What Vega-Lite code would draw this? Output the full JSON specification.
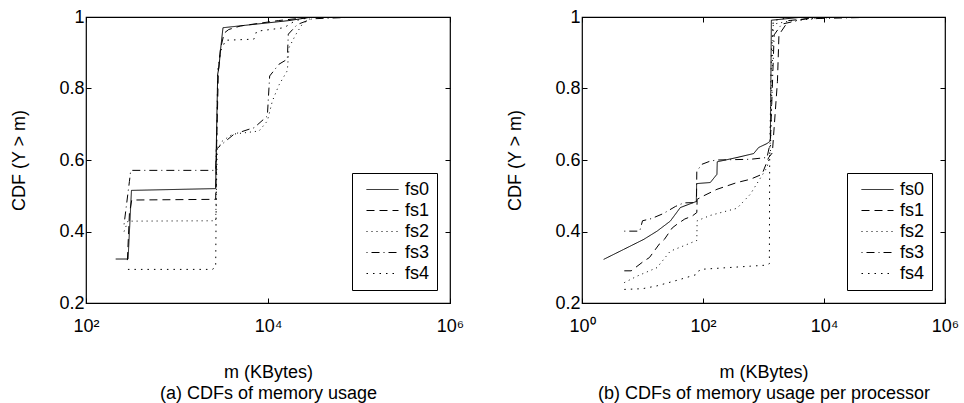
{
  "$schema": "https://vega.github.io/schema/vega-lite/v6.json",
  "background": "white",
  "padding": {"left": 9, "top": 7, "right": 5, "bottom": 5},
  "config": {
    "font": "Liberation Sans",
    "view": {"stroke": "black", "strokeWidth": 1.2},
    "axis": {"labelFont": "Liberation Sans", "labelFontSize": 18, "labelColor": "black", "titleFont": "Liberation Sans", "titleFontSize": 18, "titleFontWeight": "normal", "titleColor": "black", "domain": false, "grid": false, "tickColor": "black", "tickSize": -5, "labelFlush": false, "labelOverlap": false},
    "axisX": {"labelPadding": 19, "titlePadding": 28, "titleLineHeight": 21},
    "axisY": {"labelPadding": 7, "titlePadding": 30.5},
    "legend": {"orient": "bottom-right", "offset": 13, "strokeColor": "black", "fillColor": "white", "padding": 7.5, "labelFont": "Liberation Sans", "labelFontSize": 18, "labelColor": "black", "symbolType": "M-2,0H2", "symbolStrokeColor": "black", "symbolFillColor": "transparent", "symbolStrokeWidth": 1, "symbolSize": 256, "symbolOffset": 14, "labelOffset": 13.5, "rowPadding": 3, "cornerRadius": 0},
    "line": {"color": "black", "strokeWidth": 1}
  },
  "datasets": {
    "a": [
      {"s": "fs0", "m": 212, "p": 0.323}, {"s": "fs0", "m": 290, "p": 0.323}, {"s": "fs0", "m": 316, "p": 0.515}, {"s": "fs0", "m": 2661, "p": 0.52}, {"s": "fs0", "m": 2700, "p": 0.63}, {"s": "fs0", "m": 2800, "p": 0.84}, {"s": "fs0", "m": 2894, "p": 0.86}, {"s": "fs0", "m": 3000, "p": 0.905}, {"s": "fs0", "m": 3201, "p": 0.97}, {"s": "fs0", "m": 17000, "p": 0.99}, {"s": "fs0", "m": 30700, "p": 1.0}, {"s": "fs0", "m": 100000, "p": 1.0},
      {"s": "fs1", "m": 285, "p": 0.32}, {"s": "fs1", "m": 300, "p": 0.45}, {"s": "fs1", "m": 318, "p": 0.488}, {"s": "fs1", "m": 2661, "p": 0.49}, {"s": "fs1", "m": 2720, "p": 0.63}, {"s": "fs1", "m": 2850, "p": 0.85}, {"s": "fs1", "m": 3000, "p": 0.91}, {"s": "fs1", "m": 3300, "p": 0.955}, {"s": "fs1", "m": 3700, "p": 0.965}, {"s": "fs1", "m": 5000, "p": 0.975}, {"s": "fs1", "m": 13000, "p": 0.99}, {"s": "fs1", "m": 30700, "p": 1.0}, {"s": "fs1", "m": 100000, "p": 1.0},
      {"s": "fs2", "m": 262, "p": 0.40}, {"s": "fs2", "m": 290, "p": 0.43}, {"s": "fs2", "m": 318, "p": 0.429}, {"s": "fs2", "m": 2661, "p": 0.43}, {"s": "fs2", "m": 2775, "p": 0.63}, {"s": "fs2", "m": 3150, "p": 0.653}, {"s": "fs2", "m": 4053, "p": 0.672}, {"s": "fs2", "m": 7960, "p": 0.681}, {"s": "fs2", "m": 9835, "p": 0.709}, {"s": "fs2", "m": 11170, "p": 0.765}, {"s": "fs2", "m": 13210, "p": 0.81}, {"s": "fs2", "m": 16310, "p": 0.85}, {"s": "fs2", "m": 17000, "p": 0.914}, {"s": "fs2", "m": 20100, "p": 0.95}, {"s": "fs2", "m": 23800, "p": 0.98}, {"s": "fs2", "m": 30700, "p": 1.0}, {"s": "fs2", "m": 100000, "p": 1.0},
      {"s": "fs3", "m": 262, "p": 0.42}, {"s": "fs3", "m": 300, "p": 0.54}, {"s": "fs3", "m": 310, "p": 0.571}, {"s": "fs3", "m": 2661, "p": 0.571}, {"s": "fs3", "m": 2700, "p": 0.63}, {"s": "fs3", "m": 3428, "p": 0.653}, {"s": "fs3", "m": 4227, "p": 0.672}, {"s": "fs3", "m": 6180, "p": 0.686}, {"s": "fs3", "m": 7017, "p": 0.69}, {"s": "fs3", "m": 9835, "p": 0.723}, {"s": "fs3", "m": 10430, "p": 0.835}, {"s": "fs3", "m": 13210, "p": 0.868}, {"s": "fs3", "m": 16310, "p": 0.882}, {"s": "fs3", "m": 16720, "p": 0.952}, {"s": "fs3", "m": 21000, "p": 0.979}, {"s": "fs3", "m": 30700, "p": 0.995}, {"s": "fs3", "m": 100000, "p": 1.0},
      {"s": "fs4", "m": 289, "p": 0.294}, {"s": "fs4", "m": 2443, "p": 0.294}, {"s": "fs4", "m": 2661, "p": 0.30}, {"s": "fs4", "m": 2720, "p": 0.6}, {"s": "fs4", "m": 2800, "p": 0.85}, {"s": "fs4", "m": 3019, "p": 0.905}, {"s": "fs4", "m": 3428, "p": 0.935}, {"s": "fs4", "m": 7000, "p": 0.938}, {"s": "fs4", "m": 7500, "p": 0.96}, {"s": "fs4", "m": 15000, "p": 0.97}, {"s": "fs4", "m": 20000, "p": 0.99}, {"s": "fs4", "m": 30700, "p": 1.0}, {"s": "fs4", "m": 100000, "p": 1.0}
    ],
    "b": [
      {"s": "fs0", "m": 2.28, "p": 0.322}, {"s": "fs0", "m": 4.9, "p": 0.35}, {"s": "fs0", "m": 10.5, "p": 0.378}, {"s": "fs0", "m": 17.4, "p": 0.401}, {"s": "fs0", "m": 28.8, "p": 0.429}, {"s": "fs0", "m": 42.2, "p": 0.467}, {"s": "fs0", "m": 77.6, "p": 0.484}, {"s": "fs0", "m": 78.5, "p": 0.534}, {"s": "fs0", "m": 132, "p": 0.537}, {"s": "fs0", "m": 170, "p": 0.56}, {"s": "fs0", "m": 172, "p": 0.595}, {"s": "fs0", "m": 365, "p": 0.607}, {"s": "fs0", "m": 688, "p": 0.618}, {"s": "fs0", "m": 832, "p": 0.635}, {"s": "fs0", "m": 1142, "p": 0.646}, {"s": "fs0", "m": 1297, "p": 0.653}, {"s": "fs0", "m": 1350, "p": 0.991}, {"s": "fs0", "m": 4610, "p": 1.0}, {"s": "fs0", "m": 100000, "p": 1.0},
      {"s": "fs1", "m": 5.0, "p": 0.29}, {"s": "fs1", "m": 6.5, "p": 0.29}, {"s": "fs1", "m": 10.5, "p": 0.317}, {"s": "fs1", "m": 13, "p": 0.327}, {"s": "fs1", "m": 19, "p": 0.365}, {"s": "fs1", "m": 23, "p": 0.378}, {"s": "fs1", "m": 31, "p": 0.41}, {"s": "fs1", "m": 37, "p": 0.42}, {"s": "fs1", "m": 50, "p": 0.435}, {"s": "fs1", "m": 66, "p": 0.443}, {"s": "fs1", "m": 79, "p": 0.453}, {"s": "fs1", "m": 80, "p": 0.49}, {"s": "fs1", "m": 103, "p": 0.5}, {"s": "fs1", "m": 170, "p": 0.518}, {"s": "fs1", "m": 365, "p": 0.537}, {"s": "fs1", "m": 604, "p": 0.546}, {"s": "fs1", "m": 945, "p": 0.56}, {"s": "fs1", "m": 1218, "p": 0.607}, {"s": "fs1", "m": 1400, "p": 0.62}, {"s": "fs1", "m": 1700, "p": 0.82}, {"s": "fs1", "m": 1800, "p": 0.95}, {"s": "fs1", "m": 2600, "p": 0.99}, {"s": "fs1", "m": 10000, "p": 1.0}, {"s": "fs1", "m": 100000, "p": 1.0},
      {"s": "fs2", "m": 5.0, "p": 0.257}, {"s": "fs2", "m": 8.1, "p": 0.275}, {"s": "fs2", "m": 17.4, "p": 0.299}, {"s": "fs2", "m": 28.8, "p": 0.345}, {"s": "fs2", "m": 48, "p": 0.36}, {"s": "fs2", "m": 79, "p": 0.375}, {"s": "fs2", "m": 80, "p": 0.43}, {"s": "fs2", "m": 132, "p": 0.445}, {"s": "fs2", "m": 365, "p": 0.465}, {"s": "fs2", "m": 604, "p": 0.504}, {"s": "fs2", "m": 1142, "p": 0.579}, {"s": "fs2", "m": 1300, "p": 0.62}, {"s": "fs2", "m": 1450, "p": 0.98}, {"s": "fs2", "m": 3000, "p": 0.99}, {"s": "fs2", "m": 16300, "p": 1.0}, {"s": "fs2", "m": 100000, "p": 1.0},
      {"s": "fs3", "m": 5.0, "p": 0.401}, {"s": "fs3", "m": 9, "p": 0.401}, {"s": "fs3", "m": 10, "p": 0.43}, {"s": "fs3", "m": 14, "p": 0.436}, {"s": "fs3", "m": 22, "p": 0.45}, {"s": "fs3", "m": 35, "p": 0.47}, {"s": "fs3", "m": 48, "p": 0.48}, {"s": "fs3", "m": 78, "p": 0.481}, {"s": "fs3", "m": 79, "p": 0.569}, {"s": "fs3", "m": 96, "p": 0.588}, {"s": "fs3", "m": 132, "p": 0.597}, {"s": "fs3", "m": 170, "p": 0.6}, {"s": "fs3", "m": 604, "p": 0.602}, {"s": "fs3", "m": 1142, "p": 0.607}, {"s": "fs3", "m": 1300, "p": 0.65}, {"s": "fs3", "m": 1500, "p": 0.95}, {"s": "fs3", "m": 2000, "p": 0.98}, {"s": "fs3", "m": 5000, "p": 0.995}, {"s": "fs3", "m": 100000, "p": 1.0},
      {"s": "fs4", "m": 5.0, "p": 0.238}, {"s": "fs4", "m": 10, "p": 0.24}, {"s": "fs4", "m": 17.4, "p": 0.248}, {"s": "fs4", "m": 40, "p": 0.265}, {"s": "fs4", "m": 79, "p": 0.28}, {"s": "fs4", "m": 89, "p": 0.294}, {"s": "fs4", "m": 608, "p": 0.303}, {"s": "fs4", "m": 1142, "p": 0.306}, {"s": "fs4", "m": 1250, "p": 0.31}, {"s": "fs4", "m": 1265, "p": 0.6}, {"s": "fs4", "m": 1350, "p": 0.9}, {"s": "fs4", "m": 1450, "p": 0.99}, {"s": "fs4", "m": 3000, "p": 1.0}, {"s": "fs4", "m": 100000, "p": 1.0}
    ]
  },
  "spacing": 40,
  "resolve": {"scale": {"strokeDash": "independent", "strokeWidth": "independent"}, "legend": {"strokeDash": "independent", "strokeWidth": "independent"}},
  "hconcat": [
    {
      "width": 364, "height": 286,
      "data": {"name": "a"},
      "layer": [
        {
          "mark": {"type": "line", "color": "black", "clip": true},
          "encoding": {
            "x": {"field": "m", "type": "quantitative", "scale": {"type": "log", "domain": [100, 1000000]}, "axis": {"values": [100, 10000, 1000000], "labelExpr": "datum.value == 1 ? '10⁰' : datum.value == 100 ? '10²' : datum.value == 10000 ? '10⁴' : '10⁶'", "title": ["m (KBytes)", "(a) CDFs of memory usage"]}},
            "y": {"field": "p", "type": "quantitative", "scale": {"domain": [0.2, 1]}, "axis": {"values": [0.2, 0.4, 0.6, 0.8, 1], "labelExpr": "datum.value == 1 ? '1' : format(datum.value, '.1f')", "title": "CDF (Y > m)"}},
            "strokeDash": {"field": "s", "type": "nominal", "scale": {"domain": ["fs0", "fs1", "fs2", "fs3", "fs4"], "range": [[1, 0], [8, 5], [1, 4], [1, 4, 8, 4], [1.5, 5]]}, "legend": {"title": null}},
            "strokeWidth": {"field": "s", "type": "nominal", "scale": {"domain": ["fs0", "fs1", "fs2", "fs3", "fs4"], "range": [1, 1, 1, 1, 2]}, "legend": {"title": null}}
          }
        },
        {
          "mark": {"type": "line", "opacity": 0},
          "encoding": {
            "x": {"field": "m", "type": "quantitative", "axis": {"orient": "top", "values": [100, 10000, 1000000], "labels": false, "title": null}},
            "y": {"field": "p", "type": "quantitative", "axis": {"orient": "right", "values": [0.2, 0.4, 0.6, 0.8, 1], "labels": false, "title": null}}
          }
        }
      ],
      "resolve": {"axis": {"x": "independent", "y": "independent"}}
    },
    {
      "width": 363, "height": 286,
      "data": {"name": "b"},
      "layer": [
        {
          "mark": {"type": "line", "color": "black", "clip": true},
          "encoding": {
            "x": {"field": "m", "type": "quantitative", "scale": {"type": "log", "domain": [1, 1000000]}, "axis": {"values": [1, 100, 10000, 1000000], "labelExpr": "datum.value == 1 ? '10⁰' : datum.value == 100 ? '10²' : datum.value == 10000 ? '10⁴' : '10⁶'", "title": ["m (KBytes)", "(b) CDFs of memory usage per processor"]}},
            "y": {"field": "p", "type": "quantitative", "scale": {"domain": [0.2, 1]}, "axis": {"values": [0.2, 0.4, 0.6, 0.8, 1], "labelExpr": "datum.value == 1 ? '1' : format(datum.value, '.1f')", "title": "CDF (Y > m)"}},
            "strokeDash": {"field": "s", "type": "nominal", "scale": {"domain": ["fs0", "fs1", "fs2", "fs3", "fs4"], "range": [[1, 0], [8, 5], [1, 4], [1, 4, 8, 4], [1.5, 5]]}, "legend": {"title": null}},
            "strokeWidth": {"field": "s", "type": "nominal", "scale": {"domain": ["fs0", "fs1", "fs2", "fs3", "fs4"], "range": [1, 1, 1, 1, 2]}, "legend": {"title": null}}
          }
        },
        {
          "mark": {"type": "line", "opacity": 0},
          "encoding": {
            "x": {"field": "m", "type": "quantitative", "axis": {"orient": "top", "values": [1, 100, 10000, 1000000], "labels": false, "title": null}},
            "y": {"field": "p", "type": "quantitative", "axis": {"orient": "right", "values": [0.2, 0.4, 0.6, 0.8, 1], "labels": false, "title": null}}
          }
        }
      ],
      "resolve": {"axis": {"x": "independent", "y": "independent"}}
    }
  ]
}
